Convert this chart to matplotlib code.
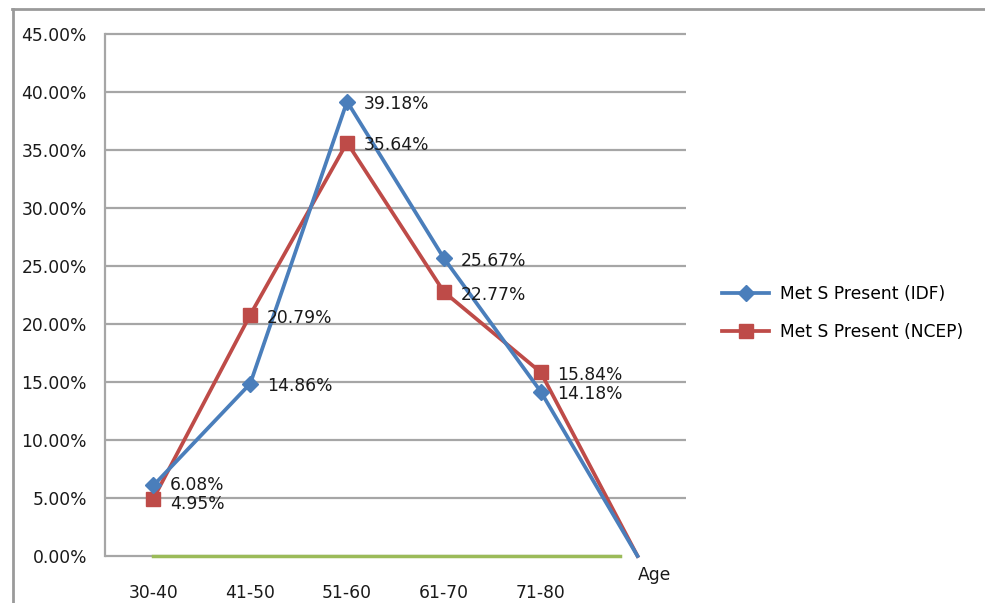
import matplotlib

matplotlib.use("Agg")
import matplotlib.pyplot as plt
from matplotlib.lines import Line2D


categories = ["30-40", "41-50", "51-60", "61-70", "71-80", ""]
idf_values = [6.08, 14.86, 39.18, 25.67, 14.18, 0.0]
ncep_values = [4.95, 20.79, 35.64, 22.77, 15.84, 0.0]
baseline_values = [0.0, 0.0, 0.0, 0.0, 0.0]
y_ticks = [0, 5, 10, 15, 20, 25, 30, 35, 40, 45]
axis_title = "Age"

blue = "#4a7ebb"
red = "#be4b48"
green = "#9bbb59"
grid_gray = "#a6a6a6"
fs = 12.3


def main():
    fig = plt.figure(figsize=(9.85, 6.03), dpi=100)
    ax = fig.add_axes([0.1066, 0.0779, 0.5898, 0.8657])

    x = list(range(len(categories)))

    # gridlines, the zero line stops short like in the original
    ax.hlines(y_ticks[1:], -0.5, 5.5, color=grid_gray, lw=1.6, zorder=1,
              clip_on=False)
    ax.hlines(0, -0.5, 4.82, color=grid_gray, lw=1.6, zorder=1, clip_on=False)
    ax.plot([0, 4.82], [baseline_values[0], baseline_values[-1]],
            color=green, lw=2.5, zorder=2, clip_on=False)

    # last point (the "Age" slot) has no marker in the original
    ax.plot(x, idf_values, color=blue, lw=2.7, marker="D", markersize=8,
            markevery=list(range(5)), label="Met S Present (IDF)", zorder=4,
            clip_on=False)
    ax.plot(x, ncep_values, color=red, lw=2.7, marker="s", markersize=9.5,
            markevery=list(range(5)), label="Met S Present (NCEP)", zorder=3,
            clip_on=False)

    for i in range(5):
        # the two 30-40 labels nearly touch, pull them apart a little
        up = 2 if i == 0 else 0
        ax.annotate(f"{idf_values[i]:.2f}%", (x[i], idf_values[i]),
                    xytext=(12, -2 + up), textcoords="offset points",
                    ha="left", va="center", fontsize=fs, color="#1a1a1a",
                    zorder=6)
        ax.annotate(f"{ncep_values[i]:.2f}%", (x[i], ncep_values[i]),
                    xytext=(12, -2 - up), textcoords="offset points",
                    ha="left", va="center", fontsize=fs, color="#1a1a1a",
                    zorder=6)

    ax.set_xlim(-0.5, 5.5)
    ax.set_ylim(0, 45)
    ax.set_yticks(y_ticks)
    ax.set_yticklabels([f"{v:.2f}%" for v in y_ticks], fontsize=fs)
    ax.set_xticks(x)
    ax.set_xticklabels(categories, fontsize=fs)
    ax.tick_params(axis="both", length=0, colors="#1a1a1a")
    ax.tick_params(axis="y", pad=13)
    ax.tick_params(axis="x", pad=20)

    for side in ["top", "right", "bottom"]:
        ax.spines[side].set_visible(False)
    ax.spines["left"].set_color(grid_gray)
    ax.spines["left"].set_linewidth(1.6)

    ax.text(5.17, -1.6, axis_title, fontsize=fs, ha="center", va="center",
            color="#1a1a1a")

    handles = [
        Line2D([], [], color=blue, lw=2.7, marker="D", markersize=8),
        Line2D([], [], color=red, lw=2.7, marker="s", markersize=9.5),
    ]
    fig.legend(handles, ["Met S Present (IDF)", "Met S Present (NCEP)"],
               loc="center left", bbox_to_anchor=(0.717, 0.481),
               frameon=False, fontsize=fs, handlelength=2.8,
               handletextpad=0.6, labelspacing=1.15)

    # outer chart border (only top and left edges are visible)
    fig.add_artist(Line2D([12 / 985, 1], [1 - 9 / 603, 1 - 9 / 603],
                          color="#9a9a9a", lw=2))
    fig.add_artist(Line2D([13 / 985, 13 / 985], [0, 1 - 9 / 603],
                          color="#9a9a9a", lw=2))

    fig.savefig("out.png", dpi=100)
    plt.close(fig)


if __name__ == "__main__":
    main()
